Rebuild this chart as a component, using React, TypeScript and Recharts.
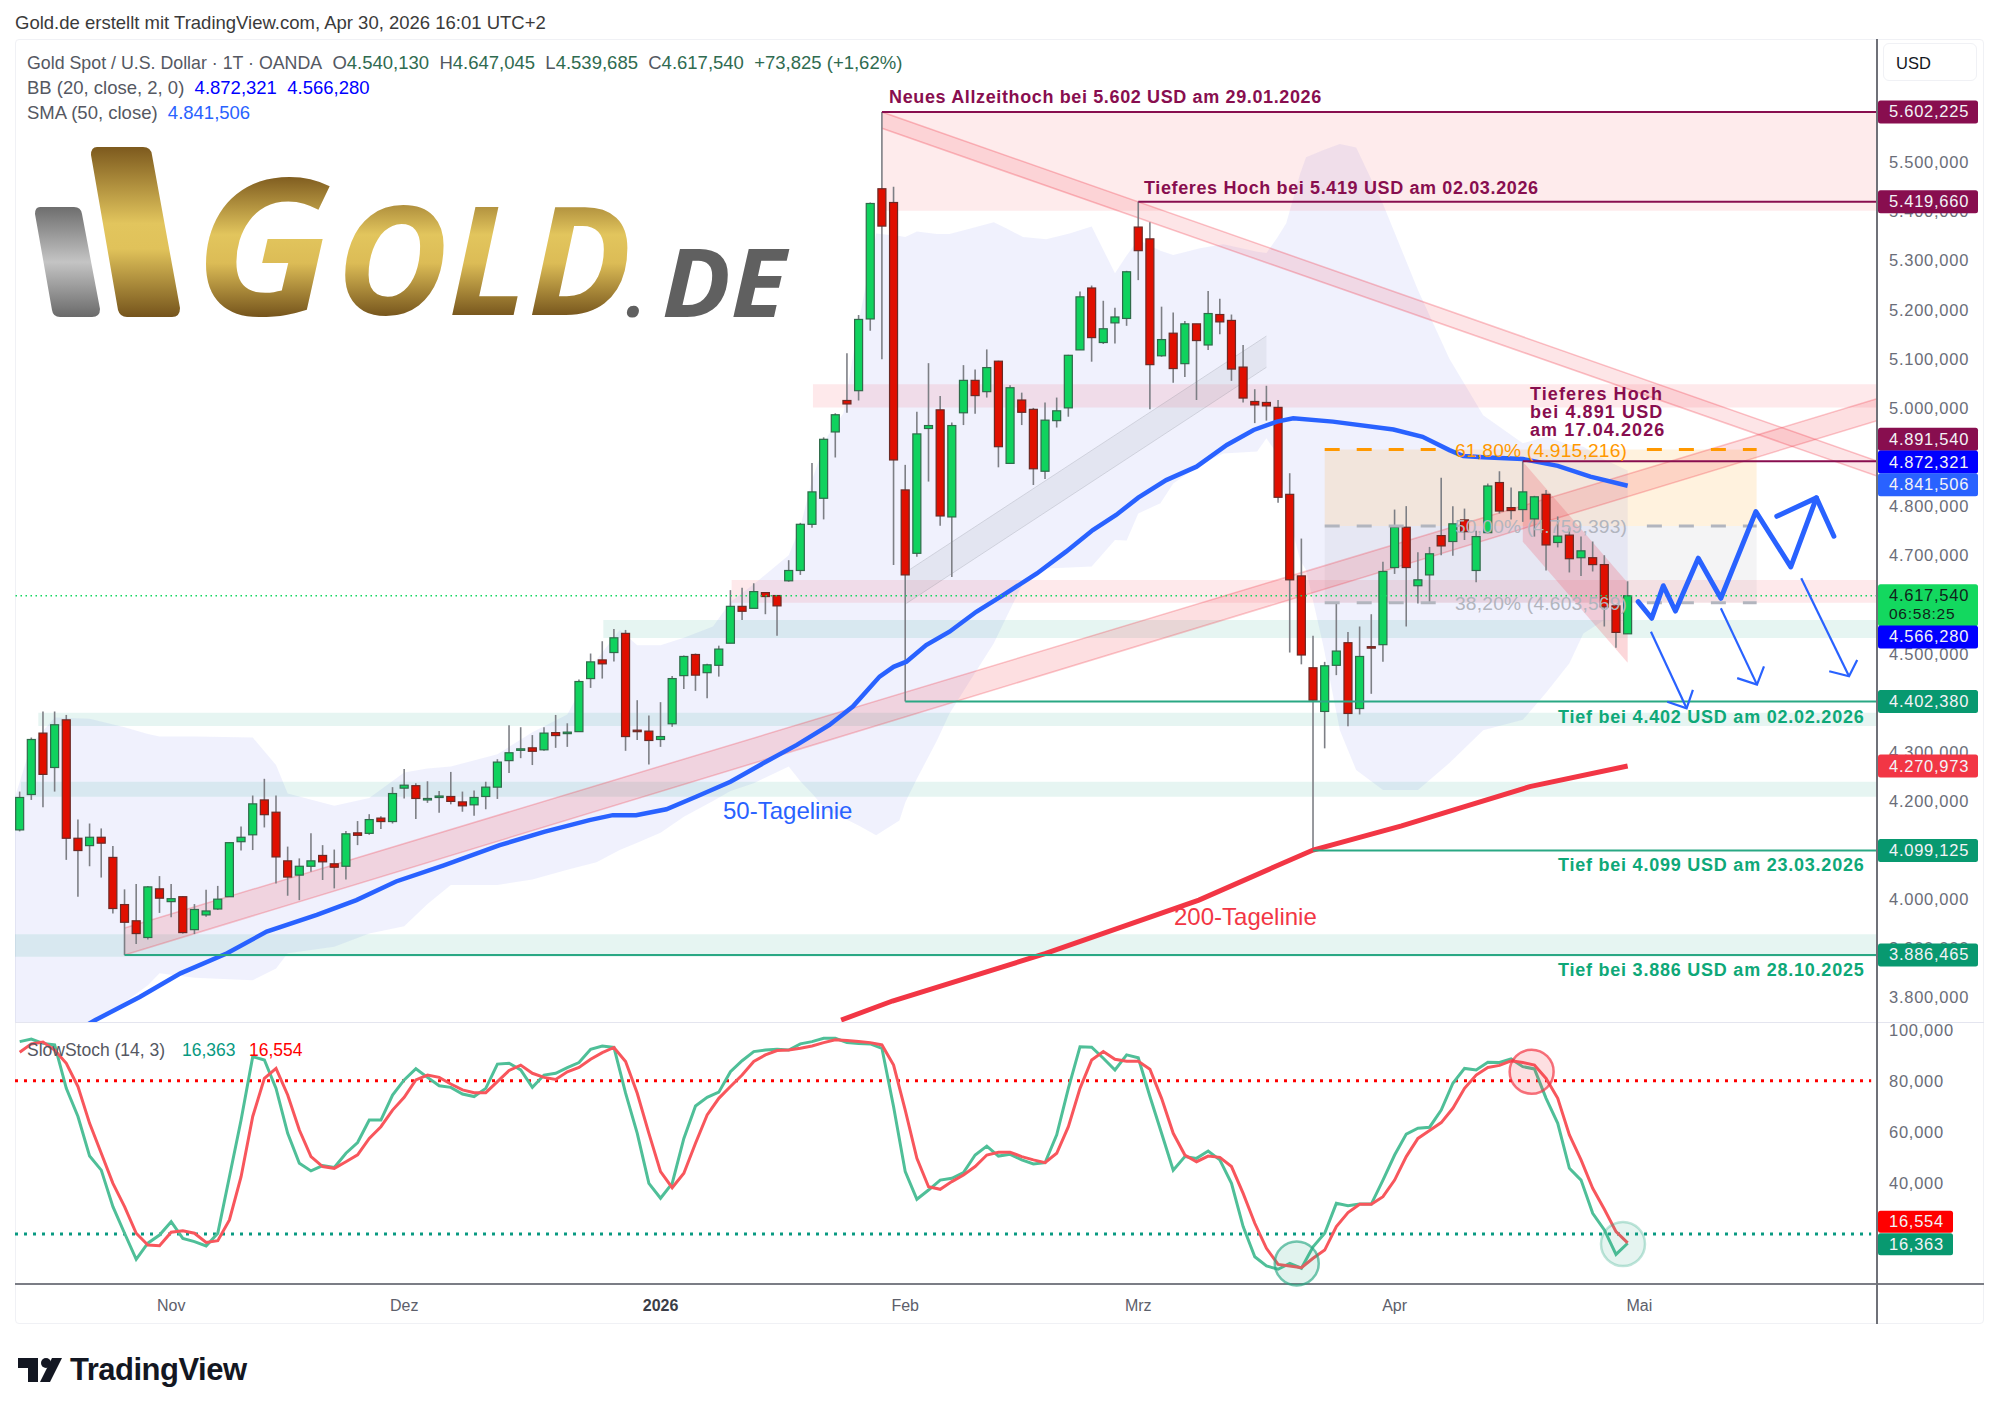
import React from "react";
import { ComposedChart, Bar, Line, Area, XAxis, YAxis, ReferenceLine, ReferenceArea, ReferenceDot } from "recharts";

const FONT = '"Liberation Sans", Arial, sans-serif';

const highs = [4219,4329,4382,4382,4375,4162,4154,4144,4108,4020,4031,4027,4047,4031,4006,3990,4019,4027,4116,4148,
4211,4245,4211,4107,4083,4134,4110,4101,4139,4159,4173,4169,4228,4265,4236,4240,4220,4259,4219,4221,
4239,4285,4354,4350,4334,4350,4375,4358,4447,4500,4525,4550,4548,4405,4374,4401,4454,4496,4500,4479,
4516,4629,4634,4643,4624,4619,4690,4766,4888,4940,4989,5111,5189,5418,5602.2,5450,4884,4992,5091,5024,
4970,5087,5078,5119,5096,5046,5031,5000,5011,5021,5108,5237,5249,5218,5204,5279,5419.7,5378,5206,5194,
5177,5171,5238,5222,5190,5128,5038,5045,5016,4867,4734,4536,4483,4601,4544,4555,4580,4687,4793,4800,
4706,4717,4858,4800,4795,4750,4846,4871,4838,4891.5,4821,4833,4779,4755,4738,4728,4700,4599,4647.045];
const lows = [4138,4202,4187,4219,4080,4005,4067,4044,3971,3886,3909,3918,3972,3963,3930,3929,3964,3978,4005,4099,
4100,4146,4032,4007,3998,4056,4039,4022,4040,4110,4131,4143,4154,4205,4163,4196,4176,4193,4178,4170,
4183,4204,4257,4287,4273,4302,4308,4310,4341,4430,4449,4484,4302,4324,4274,4310,4351,4428,4424,4409,
4453,4521,4568,4592,4580,4536,4646,4660,4756,4773,4899,4990,5015,5157,5099,4680,4402.4,4697,4850,4760,
4656,4965,4988,5021,4879,4887,4965,4843,4855,4960,4982,5118,5094,5130,5131,5167,5260,4997,5104,5051,
5063,5016,5118,5150,5055,5011,4969,4974,4807,4502,4478,4099.1,4307,4456,4352,4376,4418,4483,4662,4555,
4602,4605,4700,4699,4731,4645,4745,4785,4773,4768,4738,4669,4716,4665,4658,4667,4555,4512,4539.685];
const opens = [4141,4213,4338,4268,4365,4124,4109,4126,4085,3989,3956,3922,4021,3995,4005,3938,3968,3980,4005,4117,
4131,4202,4177,4078,4049,4067,4089,4072,4067,4135,4134,4165,4158,4226,4231,4203,4207,4209,4198,4192,
4209,4228,4282,4304,4308,4304,4339,4339,4341,4449,4487,4502,4541,4344,4342,4325,4357,4455,4498,4461,
4476,4521,4596,4592,4624,4618,4648,4669,4763,4816,4951,5015,5035,5181,5446,5418,4833,4704,4958,4996,
4778,4990,5056,5033,5095,4887,5016,4997,4871,4974,5000,5118,5244,5133,5173,5182,5368,5344,5106,5152,
5090,5171,5128,5190,5178,5083,5013,5011,5001,4824,4658,4471,4382,4476,4522,4388,4514,4518,4675,4757,
4638,4660,4740,4728,4772,4669,4746,4848,4797,4793,4774,4824,4726,4741,4695,4695,4681,4597,4540.13];
const closes = [4207,4325,4254,4355,4124,4099,4126,4114,3981,3953,3930,4025,4002,4001,3932,3979,3976,4000,4115,4126,
4194,4172,4086,4045,4067,4078,4076,4065,4133,4130,4162,4158,4215,4232,4205,4205,4210,4199,4190,4207,
4228,4279,4298,4306,4301,4338,4333,4340,4443,4483,4479,4532,4331,4342,4323,4331,4449,4494,4456,4477,
4509,4596,4586,4626,4616,4597,4669,4763,4829,4936,4986,5008,5180,5416,5370,4894,4660,4947,4964,4780,
4964,5056,5025,5082,4921,5041,4991,4876,4975,4994,5107,5226,5143,5161,5185,5277,5320,5088,5139,5080,
5171,5137,5192,5175,5079,5020,5006,5004,4818,4650,4497,4405,4475,4505,4378,4494,4512,4667,4757,4675,
4650,4703,4719,4764,4748,4738,4841,4790,4791,4829,4819,4721,4739,4693,4709,4681,4595,4543,4617.54];

const stochK = [95.3,96.3,94.6,94,77,66,50.5,45,30.7,20.3,10.1,16.4,19.6,24.8,18.3,17,15.3,20.3,42.4,64.6,
89.4,88.1,77,59.4,47.7,44.7,46.8,46,51.6,55.8,64.6,64.6,74.4,80.3,84.7,81.3,78,77.4,74.8,73.8,
77,86.5,86.8,84.2,77.4,82.2,82.9,85.1,87.1,92.3,93.6,93,75.1,59.4,39.8,34,39.8,57.4,70.1,
73.5,75.5,83.5,87.8,91.4,92,92.3,92,94.4,95.3,96.6,96.6,94.9,94.6,94.4,92.7,69.8,44.4,33.6,37.2,
41.1,41.8,44,50.9,54.4,50.5,51.2,49,47.4,47.9,58.8,77,93.3,93.1,88.8,84.2,90.1,89,73.8,59.4,
45,50.3,49.6,52.5,49,39.8,22.9,11.1,7.5,6.2,8.5,6.6,15,20.3,32,31.1,31.7,31.7,41.1,50.9,
59.1,61.4,61.8,68.5,79,84.8,84.2,87.2,87.1,88.5,85.5,84.6,73.1,63.3,45.7,41.1,28.1,21.6,12,16.363];
const stochD = [91.1,94.4,95.1,92,86.8,77.7,63.3,51.6,39.8,30.7,20.3,15.7,15.4,20.7,21.3,20.3,16.7,17.4,25.5,42.4,
66,80.9,84.8,74.4,60.7,50.3,46.4,45.7,48.3,51,57.4,62,68.5,73.5,80.3,82.2,81.3,78.7,76.4,75.3,
75.3,79.6,84,86.1,82.9,81.3,80.5,83.5,85.2,88.4,91,93,87.5,75.1,59.4,44.4,38.1,43.8,55.5,
66.6,73.1,77.7,82.2,87.5,90.1,91.8,92,92.7,93.6,94.9,96,95.7,95.3,94.9,94,86.1,68.5,49.6,38.5,
37.5,40.5,43.1,46.4,50.9,52,52,50.3,49,47.9,51.6,62,77,88.1,91.4,88.4,87.6,87.6,84.5,73.1,
59.4,50.9,48.3,50.5,50,46.4,35.9,24.2,14.4,8.1,7.5,6.8,10.5,13.7,22.9,28.4,31.6,31.6,34.6,41.1,
50.3,57.4,60.5,63.6,69.2,77,82.2,85.2,86,87.8,87.1,86.1,80.9,73.1,58.8,49,37.9,29.7,20.9,16.554];

const bbIndex = [-0.4,1,3,6,9,11,12,15,20,22,23,27,30,33,35,37,41,44,47,49.5,51.5,53,55,57,59.5,61,63,66,67,68,69.3,70.7,72,73.5,75.5,76,77,78.7,79.8,81.6,83.6,84.7,86.1,88.1,90.1,92,94,95,96,97.9,99,101.3,103.3,106.2,107,107.9,108.7,109.9,110.4,111.9,113.3,114.7,117,120,122.7,125.6,129,131,133,134.2,136,138];
const bbUpper = [4208,4315,4370,4367,4350,4336,4331,4331,4329,4273,4215,4190,4206,4258,4266,4270,4295,4340,4376,4487,4548,4517,4517,4532,4555,4605,4641,4700,4758,4853,4941,4989,5175,5355,5350,5348,5359,5354,5354,5365,5378,5365,5348,5343,5355,5369,5274,5310,5342,5320,5311,5325,5333,5318,5315,5345,5376,5477,5510,5525,5537,5530,5415,5240,5100,4985,4928,4941,4925,4921,4895,4872.321];
const bbLower = [3640,3650,3690,3745,3790,3825,3849,3840,3835,3859,3890,3903,3930,3945,3990,4029,4029,4040,4060,4075,4100,4115,4135,4168,4200,4220,4236,4270,4240,4215,4180,4165,4150,4130,4160,4197,4245,4322,4378,4446,4521,4575,4643,4673,4675,4677,4731,4730,4785,4806,4846,4884,4907,4911,4938,4907,4800,4690,4670,4514,4344,4263,4222,4222,4277,4344,4365,4420,4480,4541,4568,4566.28];

const sma50Index = [4,6.5,10.3,13.8,17.8,21.2,25.5,28.9,32.3,36.4,41.2,45,48.9,50.9,52.9,55.5,58.1,61,63.8,66.7,69.5,71.5,73.8,75,76.1,77.8,79.8,82.1,84.4,87.3,89.8,92.1,94.1,96,98.4,101,103.6,105.9,107.9,109.3,112.7,117.9,120.4,122.7,123.9,125.6,129,132,134.8,138];
const sma50Value = [3720,3754,3801,3849,3890,3934,3968,3998,4036,4069,4110,4137,4161,4171,4171,4183,4209,4239,4276.5,4314,4354.5,4392,4453,4473,4483.4,4517.3,4544.4,4585,4619,4663,4707.3,4751.4,4782,4817.2,4853,4880.3,4924.4,4955,4972,4979,4972,4956,4941,4914,4902,4899.3,4896,4882,4860,4841.506];
const sma200Index = [70.5,74.9,88,101.2,107.7,111,118.6,129.6,138];
const sma200Value = [3754,3792.7,3889,3998,4066,4100,4149,4229,4270.973];

const risingIndex = [9,159.4];
const risingHigh = [3941.3,5018.4];
const risingLow = [3886.5,4974];
const fallingIndex = [74,159.4];
const fallingHigh = [5602.2,4891.8];
const fallingLow = [5569,4861.3];
const greyIndex = [76.1,107];
const greyHigh = [4666.5,5146.3];
const greyLow = [4602,5082.6];
const shortIndex = [129,138];
const shortHigh = [4890.5,4644.2];
const shortLow = [4727.6,4481.3];

const pathIndex = [138.9,140.06,141.06,142.1,144.06,146,149,152,154.2];
const pathValue = [4605.5,4571.7,4638,4586.5,4694,4612.4,4788.7,4676.5,4816.8];
const headIndex = [150.8,154.2,155.7];
const headValue = [4779.3,4816.8,4738.8];
const arrow1Index = [140,143.06]; const arrow1Value = [4544.4,4388.5];
const arrow1HeadIndex = [141.4,143.06,143.6]; const arrow1HeadValue = [4402,4388.5,4425.8];
const arrow2Index = [146,149.1]; const arrow2Value = [4592,4436.7];
const arrow2HeadIndex = [147.4,149.1,149.7]; const arrow2HeadValue = [4450,4436.7,4474];
const arrow3Index = [152.9,157]; const arrow3Value = [4653,4453.6];
const arrow3HeadIndex = [155.3,157,157.7]; const arrow3HeadValue = [4464,4453.6,4487];

const priceTicks = [5500,5400,5300,5200,5100,5000,4800,4700,4500,4300,4200,4000,3900,3800];
const priceTags = [5602.225,5419.66,4891.54,4872.321,4841.506,4617.54,4566.28,4402.38,4270.973,4099.125,3886.465];
const priceTagText = ["5.602,225","5.419,660","4.891,540","4.872,321","4.841,506","4.617,540","4.566,280","4.402,380","4.270,973","4.099,125","3.886,465"];
const priceTagFill = ["#880e4f","#880e4f","#880e4f","#0000ff","#2962ff","#13d85f","#0000ff","#089970","#f23645","#089970","#089970"];
const priceTagShift = [0,0,-22,-8.5,-1,0,16,0,0,0,0];

const stochTicks = [100,80,60,40];
const stochTags = [16.363,16.554];
const stochTagText = ["16,363","16,554"];
const stochTagFill = ["#089970","#ff0000"];
const stochTagShift = [1,-21];

const monthIndex = [13,33,55,76,96,118,139];
const monthLabel = ["Nov","Dez","2026","Feb","Mrz","Apr","Mai"];

const candles = highs.map((h, i) => ({ x: i, hl: [lows[i], h], o: opens[i], c: closes[i] }));
const pts = (xs: number[], ys: number[]) => xs.map((x, k) => ({ x, y: ys[k] }));
const band = (xs: number[], lo: number[], hi: number[]) => xs.map((x, k) => ({ x, r: [lo[k], hi[k]] }));
const stochData = stochK.map((k, i) => ({ x: i, k, d: stochD[i] }));

const XDOMAIN: [number, number] = [-0.403, 159.4];

function Candle(props: any) {
  const { x, y, width, height, payload } = props;
  const [l, h] = payload.hl;
  const perUnit = height / (h - l);
  const top = y + (h - Math.max(payload.o, payload.c)) * perUnit;
  const bot = y + (h - Math.min(payload.o, payload.c)) * perUnit;
  const up = payload.c >= payload.o;
  const cx = x + width / 2;
  return (
    <g>
      <line x1={cx} x2={cx} y1={y} y2={y + height} stroke="#7d7f85" strokeWidth={1.6} />
      <rect x={cx - 4} y={top} width={8} height={Math.max(bot - top, 1.5)} fill={up ? "#10d25e" : "#e00f00"} stroke={up ? "#2f6b4a" : "#6b2a25"} strokeWidth={1.2} />
    </g>
  );
}

function PriceTick(props: any) {
  const { x, y, payload } = props;
  const k = priceTags.indexOf(payload.value);
  const style = { fontFamily: FONT, fontSize: 16.5, letterSpacing: 0.75 };
  if (k < 0) {
    return <text x={x + 12} y={y} dy={6} fill="#6a6d78" style={style}>{priceTickLabel(payload.value)}</text>;
  }
  const cy = y + priceTagShift[k];
  const isLast = priceTagText[k] === "4.617,540";
  if (isLast) {
    return (
      <g>
        <rect x={x + 1} y={cy - 11.5} width={100} height={42} rx={2.5} fill={priceTagFill[k]} />
        <text x={x + 12} y={cy} dy={5} fill="#10231a" style={style}>{priceTagText[k]}</text>
        <text x={x + 12} y={cy + 18} dy={5} fill="#10231a" style={{ ...style, fontSize: 15.5 }}>06:58:25</text>
      </g>
    );
  }
  return (
    <g>
      <rect x={x + 1} y={cy - 11.5} width={100} height={23} rx={2.5} fill={priceTagFill[k]} />
      <text x={x + 12} y={cy} dy={5.5} fill="#f3f3f7" style={style}>{priceTagText[k]}</text>
    </g>
  );
}
function priceTickLabel(v: number) {
  const s = String(v);
  return s[0] + "." + s.slice(1) + ",000";
}

function StochTick(props: any) {
  const { x, y, payload } = props;
  const k = stochTags.indexOf(payload.value);
  const style = { fontFamily: FONT, fontSize: 16.5, letterSpacing: 0.75 };
  if (k < 0) {
    return <text x={x + 12} y={y} dy={6} fill="#6a6d78" style={style}>{payload.value + ",000"}</text>;
  }
  const cy = y + stochTagShift[k];
  return (
    <g>
      <rect x={x + 1} y={cy - 11} width={75} height={22} rx={2.5} fill={stochTagFill[k]} />
      <text x={x + 12} y={cy} dy={5.5} fill="#f3f3f7" style={style}>{stochTagText[k]}</text>
    </g>
  );
}

function MonthTick(props: any) {
  const { x, y, payload } = props;
  const k = monthIndex.indexOf(payload.value);
  const bold = monthLabel[k] === "2026";
  return (
    <text x={x} y={y} dy={25} textAnchor="middle" fill={bold ? "#3b3e47" : "#5d606b"} style={{ fontFamily: FONT, fontSize: 16, fontWeight: bold ? 700 : 400 }}>
      {monthLabel[k]}
    </text>
  );
}

const abs = (left: number, top: number, extra: any = {}): any => ({
  position: "absolute", left, top, transform: "translateY(-50%)", whiteSpace: "nowrap", fontFamily: FONT, lineHeight: 1.2, ...extra,
});

function Note({ x, y, color, text, size = 18, bold = true, spacing = 0.63 }: any) {
  return <div style={abs(x, y + (size < 20 ? 1.2 : 0), { color, fontSize: size, fontWeight: bold ? 700 : 400, letterSpacing: spacing })}>{text}</div>;
}

const LABEL = "#555862";
const VALUE = "#2f6b50";
const PURPLE = "#880e4f";
const GREEN = "#0ea878";

function Logo() {
  return (
    <svg width={800} height={340} style={{ position: "absolute", left: 0, top: 0, overflow: "visible" }}>
      <defs>
        <linearGradient id="gold" x1="0" y1="0" x2="0" y2="1">
          <stop offset="0" stopColor="#7d5a1e" />
          <stop offset="0.45" stopColor="#e2c55d" />
          <stop offset="0.6" stopColor="#e0c25a" />
          <stop offset="1" stopColor="#75541c" />
        </linearGradient>
        <linearGradient id="goldText" gradientUnits="userSpaceOnUse" x1="0" y1="175" x2="0" y2="317">
          <stop offset="0" stopColor="#7d5a1e" />
          <stop offset="0.42" stopColor="#e2c55d" />
          <stop offset="0.62" stopColor="#dcbc56" />
          <stop offset="1" stopColor="#75541c" />
        </linearGradient>
        <linearGradient id="silver" x1="0" y1="0" x2="0" y2="1">
          <stop offset="0" stopColor="#6e6e6e" />
          <stop offset="0.5" stopColor="#c4c4c4" />
          <stop offset="1" stopColor="#6a6a6a" />
        </linearGradient>
      </defs>
      <path d="M40 207 H74 Q81 207 82 214 L100 309 Q100 317 92 317 H60 Q53 317 52 310 L35 214 Q35 207 40 207 Z" fill="url(#silver)" />
      <path d="M97 147 H143 Q151 147 152 155 L180 308 Q180 317 172 317 H127 Q120 317 118 310 L91 155 Q91 147 97 147 Z" fill="url(#gold)" />
      <text x={194} y={315} fontFamily='"Open Sans", sans-serif' fontStyle="italic" fontWeight={700} fontSize={190} textLength={138} lengthAdjust="spacingAndGlyphs" fill="url(#goldText)">G</text>
      <text x={336} y={315} fontFamily='"Open Sans", sans-serif' fontStyle="italic" fontWeight={700} fontSize={150} textLength={296} lengthAdjust="spacingAndGlyphs" fill="url(#goldText)">OLD</text>
      <text x={626} y={317} fontFamily='"Open Sans", sans-serif' fontStyle="italic" fontWeight={700} fontSize={70} fill="#606060">.</text>
      <text x={662} y={317} fontFamily='"Open Sans", sans-serif' fontStyle="italic" fontWeight={700} fontSize={95} textLength={124} lengthAdjust="spacingAndGlyphs" fill="#606060">DE</text>
    </svg>
  );
}

export default function App() {
  return (
    <div style={{ position: "absolute", left: 0, top: 0, width: 1999, height: 1411, background: "#fff", overflow: "hidden" }}>
      <div style={{ position: "absolute", left: 15, top: 39, width: 1969, height: 1285, border: "1px solid #f0f1f5", borderRadius: 4, boxSizing: "border-box" }} />

      <div style={{ position: "absolute", left: 0, top: 0 }}>
        <ComposedChart width={1999} height={1022} data={candles} margin={{ left: 15, right: 0, top: 39, bottom: 0 }}>
          <XAxis dataKey="x" type="number" domain={XDOMAIN} allowDataOverflow hide />
          <YAxis
            orientation="right" width={122} type="number" domain={[3750, 5750.8]} allowDataOverflow
            ticks={[...priceTicks, ...priceTags]} interval={0} tick={<PriceTick />} tickSize={0} tickMargin={0}
            axisLine={false} tickLine={false}
          />
          <Area data={band(bbIndex, bbLower, bbUpper)} dataKey="r" type="linear" fill="#4350e6" fillOpacity={0.08} stroke="none" isAnimationActive={false} />
          <ReferenceArea x1={74} x2={159.4} y1={5401} y2={5602.2} fill="#f23645" fillOpacity={0.1} stroke="none" />
          <ReferenceArea x1={68.08} x2={159.4} y1={5001} y2={5048} fill="#f23645" fillOpacity={0.11} stroke="none" />
          <ReferenceArea x1={61.1} x2={159.4} y1={4603.5} y2={4649.6} fill="#f23645" fillOpacity={0.11} stroke="none" />
          <ReferenceArea x1={50.09} x2={159.4} y1={4531.6} y2={4568} fill="#089981" fillOpacity={0.1} stroke="none" />
          <ReferenceArea x1={1.6} x2={159.4} y1={4352.5} y2={4379.5} fill="#089981" fillOpacity={0.1} stroke="none" />
          <ReferenceArea x1={0.1} x2={159.4} y1={4208.6} y2={4239} fill="#089981" fillOpacity={0.1} stroke="none" />
          <ReferenceArea x1={-0.4} x2={159.4} y1={3883} y2={3928.5} fill="#089981" fillOpacity={0.1} stroke="none" />
          <ReferenceArea x1={112} x2={149.07} y1={4759.4} y2={4915.2} fill="#ff9800" fillOpacity={0.13} stroke="none" />
          <ReferenceArea x1={112} x2={149.07} y1={4603.6} y2={4759.4} fill="#9598a1" fillOpacity={0.1} stroke="none" />

          <Bar dataKey="hl" barSize={8} shape={<Candle />} isAnimationActive={false} />

          <Area data={band(greyIndex, greyLow, greyHigh)} dataKey="r" type="linear" fill="#787b86" fillOpacity={0.1} stroke="#787b86" strokeOpacity={0.22} isAnimationActive={false} />
          <Area data={band(risingIndex, risingLow, risingHigh)} dataKey="r" type="linear" fill="#f23645" fillOpacity={0.16} stroke="#f23645" strokeOpacity={0.28} strokeWidth={1.5} isAnimationActive={false} />
          <Area data={band(fallingIndex, fallingLow, fallingHigh)} dataKey="r" type="linear" fill="#f23645" fillOpacity={0.13} stroke="#f23645" strokeOpacity={0.3} strokeWidth={1.5} isAnimationActive={false} />
          <Area data={band(shortIndex, shortLow, shortHigh)} dataKey="r" type="linear" fill="#f23645" fillOpacity={0.2} stroke="none" isAnimationActive={false} />

          <Line data={pts(sma50Index, sma50Value)} dataKey="y" type="linear" stroke="#2962ff" strokeWidth={4.5} dot={false} isAnimationActive={false} />
          <Line data={pts(sma200Index, sma200Value)} dataKey="y" type="linear" stroke="#f23645" strokeWidth={5} dot={false} isAnimationActive={false} />

          <ReferenceLine y={4617.54} stroke="#10d85f" strokeWidth={1.5} strokeDasharray="1.5 3.5" />
          <ReferenceLine segment={[{ x: 74, y: 5602.225 }, { x: 159.4, y: 5602.225 }]} stroke={PURPLE} strokeWidth={2} />
          <ReferenceLine segment={[{ x: 96, y: 5419.66 }, { x: 159.4, y: 5419.66 }]} stroke={PURPLE} strokeWidth={2} />
          <ReferenceLine segment={[{ x: 129, y: 4891.54 }, { x: 159.4, y: 4891.54 }]} stroke={PURPLE} strokeWidth={2} />
          <ReferenceLine segment={[{ x: 76, y: 4402.38 }, { x: 159.4, y: 4402.38 }]} stroke="#2aa884" strokeWidth={2} />
          <ReferenceLine segment={[{ x: 111, y: 4099.125 }, { x: 159.4, y: 4099.125 }]} stroke="#2aa884" strokeWidth={2} />
          <ReferenceLine segment={[{ x: 9, y: 3886.465 }, { x: 159.4, y: 3886.465 }]} stroke="#2aa884" strokeWidth={2} />

          <ReferenceLine segment={[{ x: 112, y: 4915.216 }, { x: 121.7, y: 4915.216 }]} stroke="#ff9800" strokeWidth={3} strokeDasharray="15 17" />
          <ReferenceLine segment={[{ x: 139.65, y: 4915.216 }, { x: 149.07, y: 4915.216 }]} stroke="#ff9800" strokeWidth={3} strokeDasharray="15 17" />
          <ReferenceLine segment={[{ x: 112, y: 4759.393 }, { x: 121.7, y: 4759.393 }]} stroke="#b2b5be" strokeWidth={3} strokeDasharray="15 17" />
          <ReferenceLine segment={[{ x: 139.65, y: 4759.393 }, { x: 149.07, y: 4759.393 }]} stroke="#b2b5be" strokeWidth={3} strokeDasharray="15 17" />
          <ReferenceLine segment={[{ x: 112, y: 4603.569 }, { x: 121.7, y: 4603.569 }]} stroke="#b2b5be" strokeWidth={3} strokeDasharray="15 17" />
          <ReferenceLine segment={[{ x: 139.65, y: 4603.569 }, { x: 149.07, y: 4603.569 }]} stroke="#b2b5be" strokeWidth={3} strokeDasharray="15 17" />

          <Line data={pts(pathIndex, pathValue)} dataKey="y" type="linear" stroke="#2962ff" strokeWidth={5} strokeLinecap="round" strokeLinejoin="round" dot={false} isAnimationActive={false} />
          <Line data={pts(headIndex, headValue)} dataKey="y" type="linear" stroke="#2962ff" strokeWidth={5} strokeLinecap="round" strokeLinejoin="round" dot={false} isAnimationActive={false} />
          <Line data={pts(arrow1Index, arrow1Value)} dataKey="y" type="linear" stroke="#2962ff" strokeWidth={2.2} dot={false} isAnimationActive={false} />
          <Line data={pts(arrow1HeadIndex, arrow1HeadValue)} dataKey="y" type="linear" stroke="#2962ff" strokeWidth={2.2} dot={false} isAnimationActive={false} />
          <Line data={pts(arrow2Index, arrow2Value)} dataKey="y" type="linear" stroke="#2962ff" strokeWidth={2.2} dot={false} isAnimationActive={false} />
          <Line data={pts(arrow2HeadIndex, arrow2HeadValue)} dataKey="y" type="linear" stroke="#2962ff" strokeWidth={2.2} dot={false} isAnimationActive={false} />
          <Line data={pts(arrow3Index, arrow3Value)} dataKey="y" type="linear" stroke="#2962ff" strokeWidth={2.2} dot={false} isAnimationActive={false} />
          <Line data={pts(arrow3HeadIndex, arrow3HeadValue)} dataKey="y" type="linear" stroke="#2962ff" strokeWidth={2.2} dot={false} isAnimationActive={false} />
        </ComposedChart>
      </div>

      <div style={{ position: "absolute", left: 0, top: 1022 }}>
        <ComposedChart width={1999} height={302} data={stochData} margin={{ left: 15, right: 0, top: 0, bottom: 0 }}>
          <XAxis
            dataKey="x" type="number" domain={XDOMAIN} allowDataOverflow height={40}
            ticks={monthIndex} interval={0} tick={<MonthTick />} tickLine={false} tickSize={0}
            axisLine={{ stroke: "#7b7d85", strokeWidth: 2 }}
          />
          <YAxis
            orientation="right" width={122} type="number" domain={[0.43, 102.97]} allowDataOverflow
            ticks={[...stochTicks, ...stochTags]} interval={0} tick={<StochTick />} tickSize={0} tickMargin={0}
            axisLine={false} tickLine={false}
          />
          <ReferenceLine segment={[{ x: -0.403, y: 80 }, { x: 158.9, y: 80 }]} stroke="#ff0000" strokeWidth={3} strokeDasharray="3 6" />
          <ReferenceLine segment={[{ x: -0.403, y: 20 }, { x: 158.9, y: 20 }]} stroke="#089981" strokeWidth={3} strokeDasharray="3 6" />
          <Line dataKey="k" type="linear" stroke="#4fbf98" strokeWidth={3} dot={false} isAnimationActive={false} />
          <Line dataKey="d" type="linear" stroke="#f8565c" strokeWidth={3} dot={false} isAnimationActive={false} />
          <ReferenceDot x={129.76} y={83.5} r={22} fill="#f23645" fillOpacity={0.16} stroke="#f23645" strokeOpacity={0.7} strokeWidth={2.5} />
          <ReferenceDot x={137.6} y={16.1} r={22} fill="#2aa884" fillOpacity={0.12} stroke="#2aa884" strokeOpacity={0.3} strokeWidth={2.5} />
          <ReferenceDot x={109.6} y={8.5} r={22} fill="#2aa884" fillOpacity={0.14} stroke="#2aa884" strokeOpacity={0.65} strokeWidth={2.5} />
        </ComposedChart>
      </div>

      <div style={{ position: "absolute", left: 15, top: 1022, width: 1969, height: 1, background: "#e4e5ef" }} />
      <div style={{ position: "absolute", left: 1877, top: 1283, width: 107, height: 2, background: "#7b7d85" }} />
      <div style={{ position: "absolute", left: 1876, top: 39, width: 2, height: 1285, background: "#6f7178" }} />

      <Logo />

      <div style={abs(15, 23, { fontSize: 18.5, color: "#3a3a3a" })}>Gold.de erstellt mit TradingView.com, Apr 30, 2026 16:01 UTC+2</div>
      <div style={abs(27, 63, { fontSize: 18.5, color: LABEL })}>
        <span style={{ fontSize: 17.8 }}>Gold Spot / U.S. Dollar · 1T · OANDA</span>&nbsp;&nbsp;O<span style={{ color: VALUE }}>4.540,130</span>&nbsp;&nbsp;H<span style={{ color: VALUE }}>4.647,045</span>&nbsp;&nbsp;L<span style={{ color: VALUE }}>4.539,685</span>&nbsp;&nbsp;C<span style={{ color: VALUE }}>4.617,540</span>&nbsp;&nbsp;<span style={{ color: VALUE }}>+73,825 (+1,62%)</span>
      </div>
      <div style={abs(27, 88, { fontSize: 18.5, color: LABEL })}>
        BB (20, close, 2, 0)&nbsp;&nbsp;<span style={{ color: "#0000ff" }}>4.872,321</span>&nbsp;&nbsp;<span style={{ color: "#0000ff" }}>4.566,280</span>
      </div>
      <div style={abs(27, 113, { fontSize: 18.5, color: LABEL })}>
        SMA (50, close)&nbsp;&nbsp;<span style={{ color: "#2962ff" }}>4.841,506</span>
      </div>

      <div style={{ position: "absolute", left: 1883, top: 43, width: 94, height: 38, border: "1px solid #f0f1f5", borderRadius: 6, boxSizing: "border-box" }} />
      <div style={abs(1896, 64, { fontSize: 16.5, color: "#131722" })}>USD</div>

      <Note x={889} y={97} color={PURPLE} text="Neues Allzeithoch bei 5.602 USD am 29.01.2026" />
      <Note x={1144} y={187.5} color={PURPLE} text="Tieferes Hoch bei 5.419 USD am 02.03.2026" />
      <Note x={1530} y={394} color={PURPLE} text="Tieferes Hoch" spacing={1.1} />
      <Note x={1530} y={411.7} color={PURPLE} text="bei 4.891 USD" spacing={1.1} />
      <Note x={1530} y={429.3} color={PURPLE} text="am 17.04.2026" spacing={1.1} />
      <Note x={1558} y={716.5} color={GREEN} text="Tief bei 4.402 USD am 02.02.2026" spacing={0.77} />
      <Note x={1558} y={864.5} color={GREEN} text="Tief bei 4.099 USD am 23.03.2026" spacing={0.77} />
      <Note x={1558} y={970} color={GREEN} text="Tief bei 3.886 USD am 28.10.2025" spacing={0.77} />
      <Note x={723} y={811} color="#2962ff" text="50-Tagelinie" size={24} bold={false} spacing={0} />
      <Note x={1174} y={917} color="#f23645" text="200-Tagelinie" size={24} bold={false} spacing={0} />
      <Note x={1455} y={449.5} color="#ff9800" text="61,80% (4.915,216)" size={19.2} bold={false} spacing={0.2} />
      <Note x={1455} y={526} color="#b2b5be" text="50,00% (4.759,393)" size={19.2} bold={false} spacing={0.2} />
      <Note x={1455} y={602.7} color="#b2b5be" text="38,20% (4.603,569)" size={19.2} bold={false} spacing={0.2} />

      <div style={abs(27, 1050, { fontSize: 17.5, color: LABEL })}>SlowStoch (14, 3)</div>
      <div style={abs(182, 1050, { fontSize: 17.5, color: "#089981" })}>16,363</div>
      <div style={abs(249, 1050, { fontSize: 17.5, color: "#ff0000" })}>16,554</div>

      <svg width={70} height={40} style={{ position: "absolute", left: 14, top: 1350 }}>
        <path d="M4 8 H24 V32 H14 V18 H4 Z" fill="#131722" />
        <circle cx={32} cy={13} r={5} fill="#131722" />
        <path d="M26 32 L38 8 H48 L36 32 Z" fill="#131722" />
      </svg>
      <div style={abs(70, 1370, { fontSize: 31, fontWeight: 700, color: "#131722", letterSpacing: -0.5 })}>TradingView</div>
    </div>
  );
}
